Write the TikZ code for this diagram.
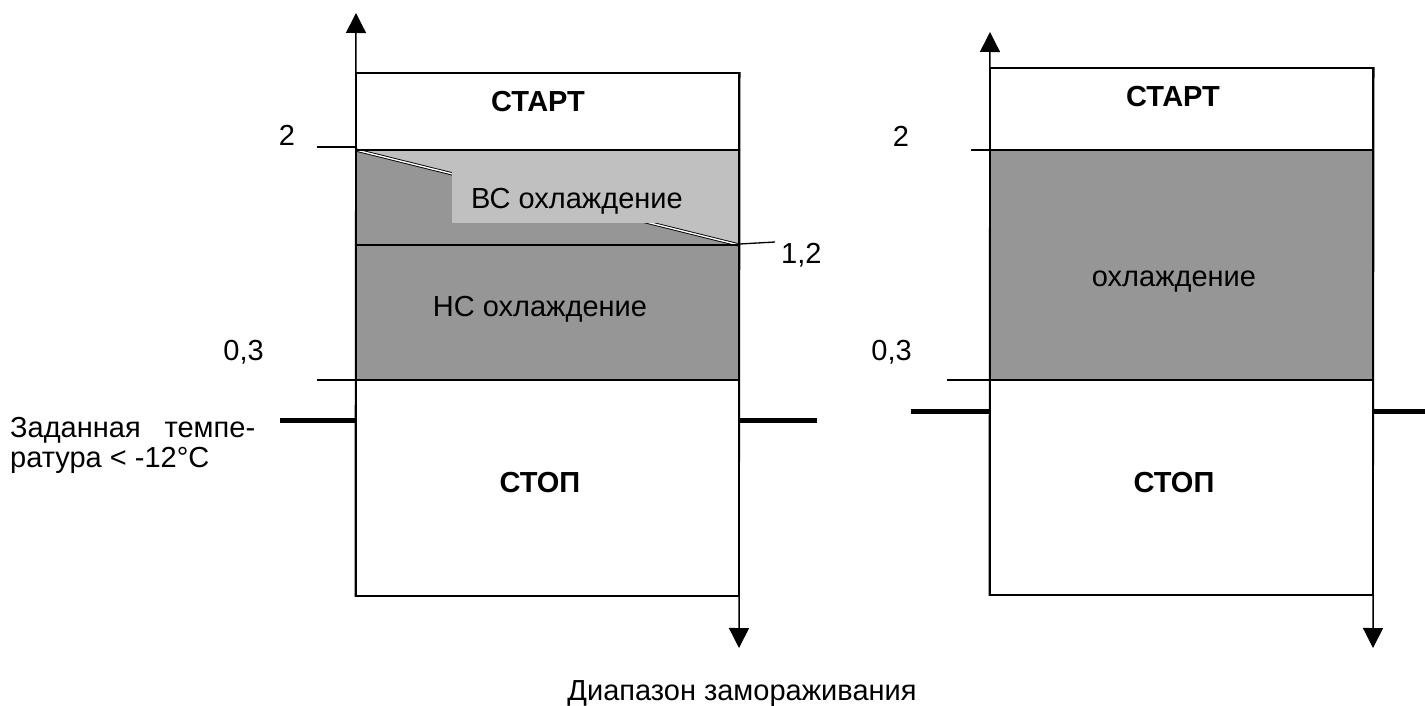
\documentclass[tikz,border=0pt]{standalone}
\usepackage{fontspec}
\setmainfont{Liberation Sans}
\usetikzlibrary{arrows.meta,positioning}

\definecolor{darkzone}{RGB}{150,150,150}
\definecolor{lightzone}{RGB}{192,192,192}

\begin{document}
\begin{tikzpicture}[
        x=1pt, y=-1pt,
        % Define styles for different components
        panel/.style={
            draw,
            rectangle,
            line width=1.5pt,
            inner sep=0pt
        },
        level/.style={
            line width=1.3pt
        },
        setpoint/.style={
            line width=5pt
        },
        axis/.style={
            line width=1.5pt,
            -{Triangle[width=20pt,length=20pt]}
        },
        label/.style={
            font=\fontsize{29}{30}\selectfont,
            inner sep=0pt,
            anchor=base
        },
        title/.style={
            label,
            font=\fontsize{29}{30}\selectfont\bfseries
        }
    ]
    \useasboundingbox (0,0) rectangle (1425,706);

    % Left panel: zones
    \fill[lightzone] (356,150) rectangle (739,245);
    \fill[darkzone] (356,150) -- (739,245) -- (356,245) -- cycle;
    \fill[darkzone] (356,245) rectangle (739,380);
    \draw[line width=0.9pt, double=white, double distance=1.4pt] (356,150) -- (739,245);
    \node[fill=lightzone, minimum width=250, minimum height=51, inner sep=0pt, anchor=north west] (vcbox) at (452,172) {};
    \node[label] (vc) at (577,208) {ВС охлаждение};
    \node[panel, minimum width=383, minimum height=523] (boxL) at (547.5,334.5) {};
    \draw[level] (boxL.west |- 0,150) -- (boxL.east |- 0,150);
    \draw[level] (boxL.west |- 0,245) -- (boxL.east |- 0,245);
    \draw[level] (boxL.west |- 0,380) -- (boxL.east |- 0,380);
    \node[title] (startL) at (538,112) {СТАРТ};
    \node[label] (nc) at (540,316) {НС охлаждение};
    \node[title] (stopL) at (540,492) {СТОП};

    % Left panel: axes
    \coordinate (topL) at (356,13);
    \coordinate (botL) at (739,648);
    \draw[axis] (boxL.south west) -- (topL);
    \draw[axis] (boxL.north east) -- (botL);

    % Left panel: ticks and values
    \coordinate (t2L) at (317,147);
    \coordinate (t12L) at (775,242);
    \coordinate (t03L) at (317,380);
    \draw[level] (t2L) -- (boxL.west |- t2L);
    \draw[level] (boxL.east |- 0,244) -- (t12L);
    \draw[level] (t03L) -- (395,380);
    \node[label] (v2L) at (287,146) {2};
    \node[label, anchor=base west] (v12L) at (781,263) {1,2};
    \node[label, anchor=base east] (v03L) at (264,360) {0,3};

    % Left panel: set temperature
    \coordinate (spL1) at (280,420);
    \coordinate (spL2) at (817,420);
    \draw[setpoint] (spL1) -- (boxL.west |- spL1);
    \draw[setpoint] (boxL.east |- spL2) -- (spL2);
    \node[label, align=left, anchor=base west] (setp) at (10,467)
        {\makebox[245pt][s]{Заданная темпе-}\\ратура < -12°C};

    % Right panel: zones
    \fill[darkzone] (990,150) rectangle (1373,380);
    \node[panel, minimum width=383, minimum height=527] (boxR) at (1181.5,331.5) {};
    \draw[level] (boxR.west |- 0,150) -- (boxR.east |- 0,150);
    \draw[level] (boxR.west |- 0,380) -- (boxR.east |- 0,380);
    \node[title] (startR) at (1173,107) {СТАРТ};
    \node[label] (coolR) at (1174,286) {охлаждение};
    \node[title] (stopR) at (1174,492) {СТОП};

    % Right panel: axes
    \coordinate (topR) at (990,32);
    \coordinate (botR) at (1373,648);
    \draw[axis] (boxR.south west) -- (topR);
    \draw[axis] (boxR.north east) -- (botR);

    % Right panel: ticks and values
    \coordinate (t2R) at (971,150);
    \coordinate (t03R) at (947,380);
    \draw[level] (t2R) -- (1027,150);
    \draw[level] (t03R) -- (1022,380);
    \node[label] (v2R) at (901,147) {2};
    \node[label, anchor=base east] (v03R) at (912,360) {0,3};

    % Right panel: set temperature
    \coordinate (spR1) at (911,411);
    \coordinate (spR2) at (1425,411);
    \draw[setpoint] (spR1) -- (boxR.west |- spR1);
    \draw[setpoint] (boxR.east |- spR2) -- (spR2);

    % Caption
    \node[label] (range) at (742,700) {Диапазон замораживания};
\end{tikzpicture}
\end{document}
